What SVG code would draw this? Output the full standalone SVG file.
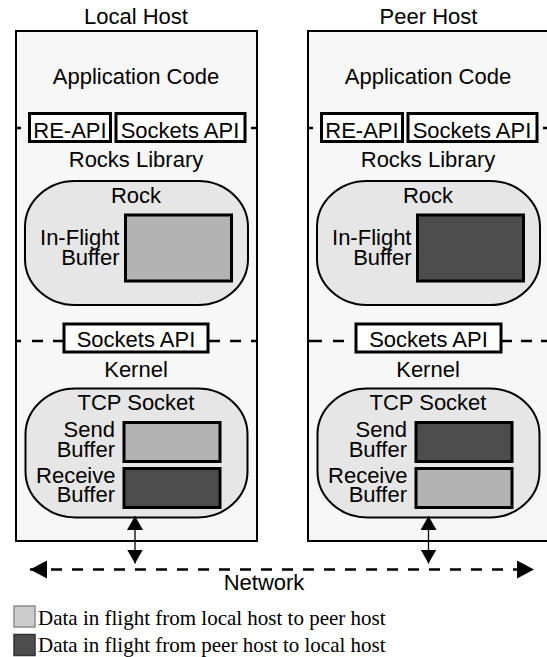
<svg xmlns="http://www.w3.org/2000/svg" width="547" height="657" viewBox="0 0 547 657">
<defs>
<style>
text{font-family:"Liberation Sans",Arial,sans-serif;font-size:22px;fill:#000}
.c{text-anchor:middle}
.r{text-anchor:end}
.host{fill:#f7f7f7;stroke:#000;stroke-width:2}
.api{fill:#fff;stroke:#000;stroke-width:3}
.pod{fill:#e6e6e6;stroke:#000;stroke-width:2}
.light{fill:#b3b3b3;stroke:#000;stroke-width:3}
.dark{fill:#4d4d4d;stroke:#000;stroke-width:3}
.dash{fill:none;stroke:#000;stroke-width:2.5}
.leg{font-family:"Liberation Serif","Times New Roman",serif;font-size:21px}
.thin{stroke:#000;stroke-width:1.3;fill:none}
.net{stroke:#000;stroke-width:2.5;fill:none;stroke-dasharray:11 10}
</style>
<marker id="vh" markerUnits="userSpaceOnUse" viewBox="0 0 14 16" refX="14" refY="8" markerWidth="14" markerHeight="16" orient="auto-start-reverse"><path d="M0,0L14,8L0,16z" fill="#000"/></marker>
<marker id="nh" markerUnits="userSpaceOnUse" viewBox="0 0 17 18" refX="17" refY="9" markerWidth="17" markerHeight="18" orient="auto-start-reverse"><path d="M0,0L17,9L0,18z" fill="#000"/></marker>
</defs>

<g id="local-host">
<rect class="host" x="16" y="31" width="241" height="510"/>
<text class="c" x="136" y="24">Local Host</text>
<text class="c" x="136" y="84">Application Code</text>
<path class="dash" d="M17 128H21M251 128H256"/>
<rect class="api" x="29.5" y="113.5" width="81" height="28"/>
<text class="c" x="70" y="137.5">RE-API</text>
<rect class="api" x="116" y="113.5" width="129" height="28"/>
<text class="c" x="180" y="137.5">Sockets API</text>
<text class="c" x="136" y="166.5">Rocks Library</text>
<g id="local-rock">
<rect class="pod" x="25" y="181" width="223" height="124" rx="50" ry="46"/>
<text class="c" x="136" y="202.5">Rock</text>
<rect class="light" x="125.5" y="215" width="106" height="66"/>
<text class="r" x="119.5" y="245">In-Flight</text>
<text class="r" x="119.5" y="265">Buffer</text>
</g>
<path class="dash" d="M17 341H21M32 341H43M53 341H63M208 341H220M230 341H241M251 341H256"/>
<rect class="api" x="64" y="324" width="144" height="28"/>
<text class="c" x="136" y="346.5">Sockets API</text>
<text class="c" x="136" y="377">Kernel</text>
<g id="local-tcp">
<rect class="pod" x="25.5" y="388.5" width="222" height="129" rx="50" ry="46"/>
<text class="c" x="136" y="410">TCP Socket</text>
<rect class="light" x="124" y="422.5" width="96" height="39"/>
<rect class="dark" x="124" y="468.5" width="96" height="39"/>
<text class="r" x="115" y="437">Send</text>
<text class="r" x="115" y="457">Buffer</text>
<text class="r" x="115.5" y="482.5">Receive</text>
<text class="r" x="115" y="501.5">Buffer</text>
</g>
</g>

<g id="peer-host">
<rect class="host" x="308" y="31" width="241" height="510"/>
<text class="c" x="428.5" y="24">Peer Host</text>
<text class="c" x="428" y="84">Application Code</text>
<path class="dash" d="M309 128H313M543 128H548"/>
<rect class="api" x="321.5" y="113.5" width="81" height="28"/>
<text class="c" x="362" y="137.5">RE-API</text>
<rect class="api" x="408" y="113.5" width="129" height="28"/>
<text class="c" x="472" y="137.5">Sockets API</text>
<text class="c" x="428" y="166.5">Rocks Library</text>
<g id="peer-rock">
<rect class="pod" x="317" y="181" width="223" height="124" rx="50" ry="46"/>
<text class="c" x="428" y="202.5">Rock</text>
<rect class="dark" x="417.5" y="215" width="106" height="66"/>
<text class="r" x="411.5" y="245">In-Flight</text>
<text class="r" x="411.5" y="265">Buffer</text>
</g>
<path class="dash" d="M309 341H322M333 341H344M500 341H512M521 341H532M541 341H548"/>
<rect class="api" x="356" y="324" width="145" height="28"/>
<text class="c" x="428.5" y="346.5">Sockets API</text>
<text class="c" x="428" y="377">Kernel</text>
<g id="peer-tcp">
<rect class="pod" x="317.5" y="388.5" width="222" height="129" rx="50" ry="46"/>
<text class="c" x="428" y="410">TCP Socket</text>
<rect class="dark" x="416" y="422.5" width="96" height="39"/>
<rect class="light" x="416" y="468.5" width="96" height="39"/>
<text class="r" x="407" y="437">Send</text>
<text class="r" x="407" y="457">Buffer</text>
<text class="r" x="407.5" y="482.5">Receive</text>
<text class="r" x="407" y="501.5">Buffer</text>
</g>
</g>

<g id="connectors">
<line class="thin" x1="135" y1="516" x2="135" y2="563.5" marker-start="url(#vh)" marker-end="url(#vh)"/>
<line class="thin" x1="428.5" y1="516" x2="428.5" y2="563.5" marker-start="url(#vh)" marker-end="url(#vh)"/>
<line class="net" x1="30" y1="569.5" x2="534" y2="569.5" marker-start="url(#nh)" marker-end="url(#nh)"/>
</g>
<g id="network-label">
<text class="c" x="264" y="590">Network</text>
</g>

<g id="legend">
<rect x="14" y="606" width="21" height="21" fill="#cccccc" stroke="#8c8c8c" stroke-width="1.5"/>
<text class="leg" x="38" y="624.5">Data in flight from local host to peer host</text>
<rect x="14" y="634.5" width="21" height="21" fill="#4d4d4d" stroke="#333" stroke-width="1.5"/>
<text class="leg" x="38" y="651.5">Data in flight from peer host to local host</text>
</g>
</svg>
